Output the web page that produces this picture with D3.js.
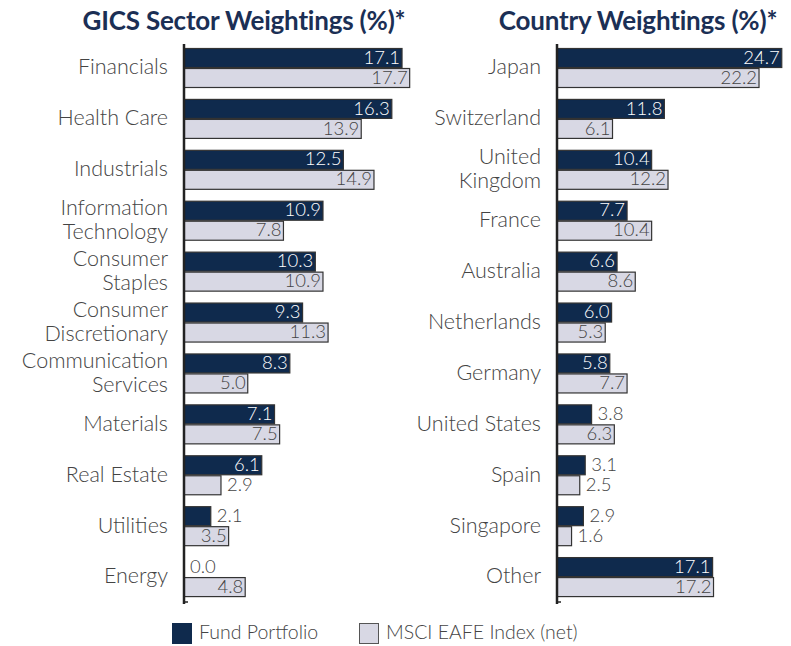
<!DOCTYPE html>
<html>
<head>
<meta charset="utf-8">
<script src="https://cdn.jsdelivr.net/npm/d3@7"></script>
<style>
  body { margin: 0; background: #fff; }
  text { font-family: "Lato", "Open Sans", sans-serif; }
</style>
</head>
<body>
<div id="canvas"></div>
<script>
"use strict";

// Data
let sectors = ["Financials", "Health Care", "Industrials", "Information Technology", "Consumer Staples",
  "Consumer Discretionary", "Communication Services", "Materials", "Real Estate", "Utilities", "Energy"];
let sectorFund = [17.1, 16.3, 12.5, 10.9, 10.3, 9.3, 8.3, 7.1, 6.1, 2.1, 0.0];
let sectorIndex = [17.7, 13.9, 14.9, 7.8, 10.9, 11.3, 5.0, 7.5, 2.9, 3.5, 4.8];

let countries = ["Japan", "Switzerland", "United Kingdom", "France", "Australia", "Netherlands",
  "Germany", "United States", "Spain", "Singapore", "Other"];
let countryFund = [24.7, 11.8, 10.4, 7.7, 6.6, 6.0, 5.8, 3.8, 3.1, 2.9, 17.1];
let countryIndex = [22.2, 6.1, 12.2, 10.4, 8.6, 5.3, 7.7, 6.3, 2.5, 1.6, 17.2];

// two-line label splits
let labelLines = {
  "Information Technology": ["Information", "Technology"],
  "Consumer Staples": ["Consumer", "Staples"],
  "Consumer Discretionary": ["Consumer", "Discretionary"],
  "Communication Services": ["Communication", "Services"],
  "United Kingdom": ["United", "Kingdom"]
};

let seriesNames = ["Fund Portfolio", "MSCI EAFE Index (net)"];
let darkColor = "#0f2a4d";
let lightColor = "#d8d8e4";
let titleColor = "#1b2f55";
let textColor = "#444";

let svgWidth = 791, svgHeight = 646;
let svg = d3.select("#canvas").append("svg")
  .attr("width", svgWidth)
  .attr("height", svgHeight);

function drawPanel(opts) {
  let rows = opts.cats.map(function(c, i) {
    return { cat: c, vals: [opts.fund[i], opts.index[i]] };
  });

  let yBand = d3.scaleBand().domain(opts.cats).range([42.5, 602.5]);
  let ySub = d3.scaleBand().domain([0, 1]).range([5.5, 45.5]);
  let x = d3.scaleLinear().domain([0, opts.maxVal]).range([opts.x0, opts.x0 + opts.maxVal * opts.pxPerUnit]);

  let g = svg.append("g");

  // title
  g.append("text")
    .attr("x", opts.titleX)
    .attr("y", 30)
    .attr("text-anchor", "middle")
    .attr("fill", titleColor)
    .style("font-weight", "700")
    .style("font-size", "26px")
    .style("letter-spacing", "-0.2px")
    .text(opts.title);

  let row = g.selectAll("g.row").data(rows).enter().append("g")
    .attr("class", "row")
    .attr("transform", function(d) { return "translate(0," + yBand(d.cat) + ")"; });

  // bars
  row.selectAll("rect").data(function(d) { return d.vals; }).enter().append("rect")
    .attr("x", x(0))
    .attr("y", function(d, i) { return ySub(i) + 0.5; })
    .attr("width", function(d) { return Math.max(0, x(d) - x(0)); })
    .attr("height", ySub.bandwidth() - 1)
    .attr("fill", function(d, i) { return i == 0 ? darkColor : lightColor; })
    .attr("stroke", "#333")
    .attr("stroke-width", 1.2);

  // value labels, outside when the bar is too short
  row.selectAll("text.val").data(function(d) { return d.vals; }).enter().append("text")
    .attr("class", "val")
    .attr("x", function(d) {
      let w = x(d) - x(0);
      return w < 40 ? x(d) + 6 : x(d) - 2;
    })
    .attr("y", function(d, i) { return ySub(i) + ySub.bandwidth() / 2 + 1; })
    .attr("dominant-baseline", "middle")
    .attr("text-anchor", function(d) { return (x(d) - x(0)) < 40 ? "start" : "end"; })
    .attr("fill", function(d, i) {
      if ((x(d) - x(0)) < 40) return textColor;
      return i == 0 ? "#ffffff" : textColor;
    })
    .style("font-size", "18.5px")
    .style("font-weight", "300")
    .text(function(d) { return d.toFixed(1); });

  // category labels
  row.each(function(d) {
    let lines = labelLines[d.cat] || [d.cat];
    let t = d3.select(this).append("text")
      .attr("x", opts.labelX)
      .attr("y", 26.5)
      .attr("text-anchor", "end")
      .attr("fill", textColor)
      .style("font-size", "21.5px")
      .style("font-weight", "300");
    lines.forEach(function(l, i) {
      t.append("tspan")
        .attr("x", opts.labelX)
        .attr("y", 26.5 + (i - (lines.length - 1) / 2) * 24)
        .attr("dominant-baseline", "middle")
        .text(l);
    });
  });

  // axis line
  g.append("line")
    .attr("x1", x(0)).attr("x2", x(0))
    .attr("y1", 44).attr("y2", 604)
    .attr("stroke", "#222")
    .attr("stroke-width", 2.5);
  g.append("line")
    .attr("x1", x(0)).attr("x2", x(0) + 4)
    .attr("y1", 602).attr("y2", 602)
    .attr("stroke", "#222")
    .attr("stroke-width", 1.5);
}

drawPanel({ cats: sectors, fund: sectorFund, index: sectorIndex, maxVal: 20, pxPerUnit: 12.75,
  x0: 184, labelX: 168, title: "GICS Sector Weightings (%)*", titleX: 244 });
drawPanel({ cats: countries, fund: countryFund, index: countryIndex, maxVal: 25, pxPerUnit: 9.1,
  x0: 557, labelX: 541, title: "Country Weightings (%)*", titleX: 638 });

// Legend
let legend = svg.append("g");
let legendX = [172, 359];
seriesNames.forEach(function(name, i) {
  legend.append("rect")
    .attr("x", legendX[i] + 0.5).attr("y", 623.5)
    .attr("width", 19).attr("height", 20)
    .attr("fill", i == 0 ? darkColor : lightColor)
    .attr("stroke", i == 0 ? darkColor : "#555");
  legend.append("text")
    .attr("x", legendX[i] + 27)
    .attr("y", 634)
    .attr("dominant-baseline", "middle")
    .attr("fill", textColor)
    .style("font-size", "19.5px")
    .style("font-weight", "300")
    .text(name);
});
</script>
</body>
</html>
